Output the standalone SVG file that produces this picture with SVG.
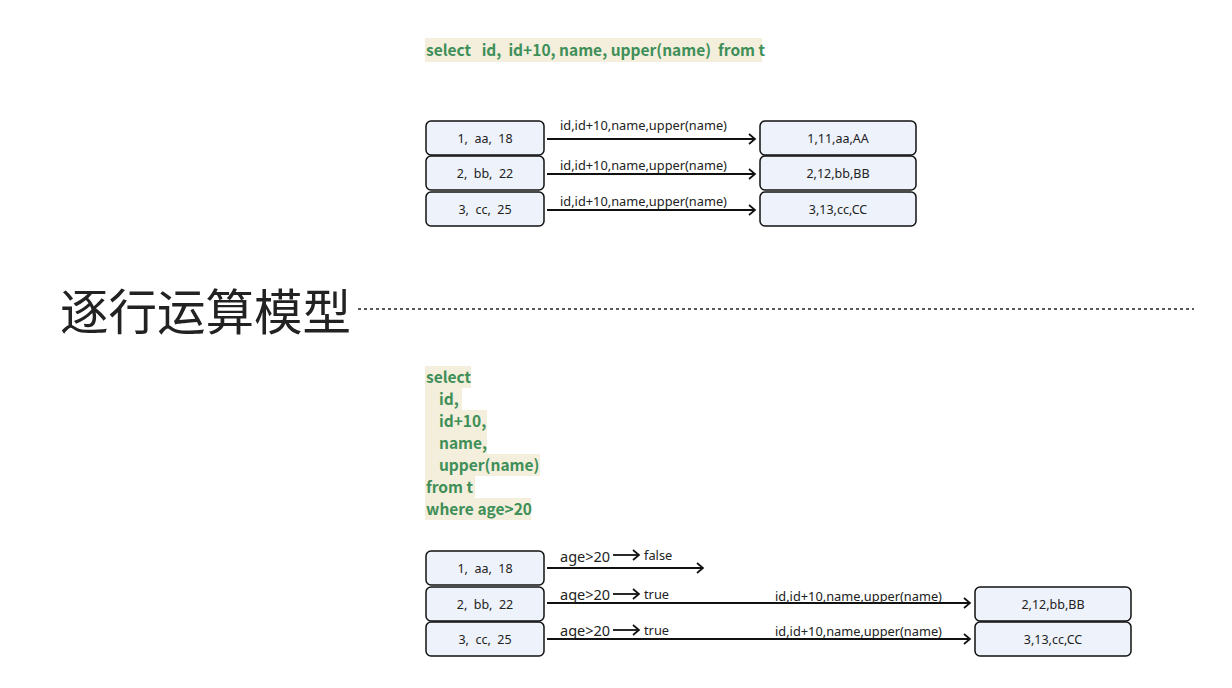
<svg xmlns="http://www.w3.org/2000/svg" width="1232" height="688" viewBox="0 0 1232 688">
<style>
.box{fill:#eef2fb;stroke:#111;stroke-width:1.5}
.t{font-family:"Noto Sans","Noto Sans CJK SC",sans-serif;font-size:12.5px;fill:#222;text-anchor:middle;white-space:pre}
.lbl{font-family:"Noto Sans","Noto Sans CJK SC",sans-serif;font-size:12.8px;fill:#222}
.age{font-family:"Noto Sans","Noto Sans CJK SC",sans-serif;font-size:14.5px;fill:#222}
.sql{font-family:"Noto Sans CJK SC","Noto Sans",sans-serif;font-size:15.5px;font-weight:bold;fill:#3f8f58;white-space:pre}
.hl{fill:#f4eedc}
.ln{stroke:#111;stroke-width:1.8;fill:none}
</style>
<defs>
<marker id="ah" markerWidth="10" markerHeight="12" refX="8" refY="6" orient="auto" markerUnits="userSpaceOnUse">
<path d="M2,1 L8,6 L2,11" fill="none" stroke="#111" stroke-width="1.7"/>
</marker>
</defs>
<rect width="1232" height="688" fill="#fff"/>

<g id="sql1">
<rect class="hl" x="425" y="38" width="337" height="24"/>
<text class="sql" x="426" y="56" xml:space="preserve">select   id,  id+10, name, upper(name)  from t</text>
</g>

<g id="title">
<text x="60" y="330" font-family="Noto Sans CJK SC,sans-serif" font-size="48.5" fill="#222">逐行运算模型</text>
<line x1="358" y1="309" x2="1194" y2="309" stroke="#222" stroke-width="1.4" stroke-dasharray="3 3"/>
</g>

<g id="sql2">
<rect class="hl" x="425" y="366" width="46" height="22"/>
<rect class="hl" x="425" y="388" width="37" height="22"/>
<rect class="hl" x="425" y="410" width="62" height="22"/>
<rect class="hl" x="425" y="432" width="62" height="22"/>
<rect class="hl" x="425" y="454" width="115" height="22"/>
<rect class="hl" x="425" y="476" width="50" height="22"/>
<rect class="hl" x="425" y="498" width="106" height="22"/>
<text class="sql" x="426" y="383">select</text>
<text class="sql" x="439" y="405">id,</text>
<text class="sql" x="439" y="427">id+10,</text>
<text class="sql" x="439" y="449">name,</text>
<text class="sql" x="439" y="471">upper(name)</text>
<text class="sql" x="426" y="493">from t</text>
<text class="sql" x="426" y="515">where age&gt;20</text>
</g>

<g id="a1"><rect class="box" x="426" y="121" width="118" height="34" rx="5"/><text class="t" x="485" y="143" xml:space="preserve">1,  aa,  18</text></g>
<g id="a2"><rect class="box" x="426" y="156" width="118" height="34" rx="5"/><text class="t" x="485" y="178" xml:space="preserve">2,  bb,  22</text></g>
<g id="a3"><rect class="box" x="426" y="192" width="118" height="34" rx="5"/><text class="t" x="485" y="214" xml:space="preserve">3,  cc,  25</text></g>
<g id="r1"><rect class="box" x="760" y="121" width="156" height="34" rx="5"/><text class="t" x="838" y="143">1,11,aa,AA</text></g>
<g id="r2"><rect class="box" x="760" y="156" width="156" height="34" rx="5"/><text class="t" x="838" y="178">2,12,bb,BB</text></g>
<g id="r3"><rect class="box" x="760" y="192" width="156" height="34" rx="5"/><text class="t" x="838" y="214">3,13,cc,CC</text></g>

<g id="b1"><rect class="box" x="426" y="551" width="118" height="34" rx="5"/><text class="t" x="485" y="573" xml:space="preserve">1,  aa,  18</text></g>
<g id="b2"><rect class="box" x="426" y="587" width="118" height="34" rx="5"/><text class="t" x="485" y="609" xml:space="preserve">2,  bb,  22</text></g>
<g id="b3"><rect class="box" x="426" y="622" width="118" height="34" rx="5"/><text class="t" x="485" y="644" xml:space="preserve">3,  cc,  25</text></g>
<g id="s2"><rect class="box" x="975" y="587" width="156" height="34" rx="5"/><text class="t" x="1053" y="609">2,12,bb,BB</text></g>
<g id="s3"><rect class="box" x="975" y="622" width="156" height="34" rx="5"/><text class="t" x="1053" y="644">3,13,cc,CC</text></g>

<g id="connectors">
<line class="ln" x1="547" y1="139" x2="755" y2="139" marker-end="url(#ah)"/>
<line class="ln" x1="547" y1="174" x2="755" y2="174" marker-end="url(#ah)"/>
<line class="ln" x1="547" y1="210" x2="755" y2="210" marker-end="url(#ah)"/>
<text class="lbl" x="560" y="130">id,id+10,name,upper(name)</text>
<text class="lbl" x="560" y="170">id,id+10,name,upper(name)</text>
<text class="lbl" x="560" y="206">id,id+10,name,upper(name)</text>

<line class="ln" x1="547" y1="568" x2="703" y2="568" marker-end="url(#ah)"/>
<line class="ln" x1="547" y1="603" x2="970" y2="603" marker-end="url(#ah)"/>
<line class="ln" x1="547" y1="639" x2="970" y2="639" marker-end="url(#ah)"/>
<text class="age" x="560" y="562">age&gt;20</text>
<text class="age" x="560" y="600">age&gt;20</text>
<text class="age" x="560" y="636">age&gt;20</text>
<line class="ln" x1="613" y1="555" x2="639" y2="555" marker-end="url(#ah)"/>
<line class="ln" x1="613" y1="594" x2="639" y2="594" marker-end="url(#ah)"/>
<line class="ln" x1="613" y1="630" x2="639" y2="630" marker-end="url(#ah)"/>
<text class="lbl" x="644" y="560">false</text>
<text class="lbl" x="644" y="599">true</text>
<text class="lbl" x="644" y="635">true</text>
<text class="lbl" x="775" y="601">id,id+10,name,upper(name)</text>
<text class="lbl" x="775" y="636">id,id+10,name,upper(name)</text>
</g>
</svg>
